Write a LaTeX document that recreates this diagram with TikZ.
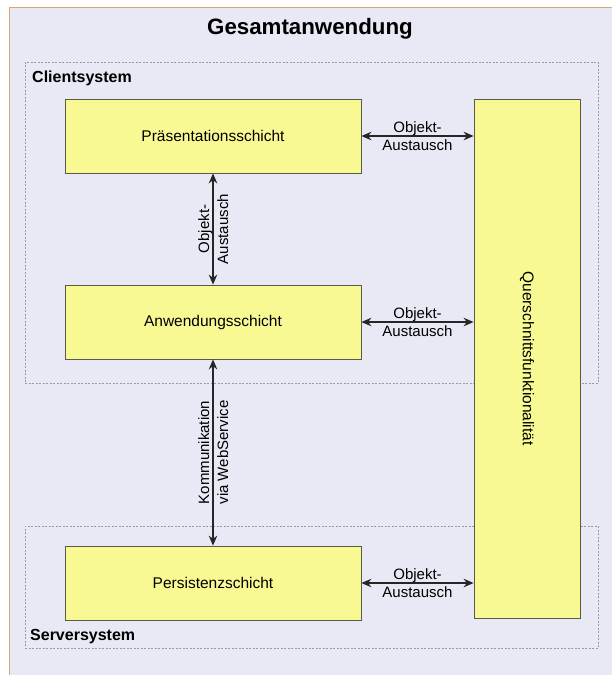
\documentclass[tikz,border=0pt]{standalone}
\usepackage{fontspec}
\setmainfont{Liberation Sans}
\usetikzlibrary{arrows.meta}
\definecolor{bgc}{HTML}{E8E9F4}
\definecolor{framec}{HTML}{D9A46E}
\definecolor{boxc}{HTML}{F9F994}
\definecolor{boxline}{HTML}{5A5A4A}
\definecolor{dashc}{HTML}{9A9AA6}
\begin{document}
\begin{tikzpicture}[x=1pt,y=-1pt,
  layer/.style={draw=boxline,fill=boxc,line width=0.8pt,font=\fontsize{15.5}{18}\selectfont,inner sep=0pt},
  sysbox/.style={draw=dashc,dash pattern=on 2pt off 1.5pt,line width=0.6pt,inner sep=0pt,anchor=north west},
  xarrow/.style={{Stealth[length=10pt,width=8.5pt]}-{Stealth[length=10pt,width=8.5pt]},line width=1.3pt,black!85},
  lbl/.style={font=\fontsize{15}{18}\selectfont,inner sep=0pt,anchor=base},
  syslbl/.style={font=\bfseries\fontsize{16}{19}\selectfont,inner sep=0pt,anchor=base west}
  ]
\useasboundingbox (0,0) rectangle (611,675);
\fill[white] (0,0) rectangle (611,675);
\draw[framec,fill=bgc,line width=1pt] (9,7) rectangle (630,690);
\node[font=\bfseries\fontsize{22.3}{26}\selectfont,anchor=base,inner sep=0pt] (title) at (310,34) {Gesamtanwendung};
% system frames
\node[sysbox,minimum width=573pt,minimum height=321pt] (client) at (25,62) {};
\node[syslbl] (clientlbl) at (32,82) {Clientsystem};
\node[sysbox,minimum width=573pt,minimum height=122pt] (server) at (25,526) {};
\node[syslbl] (serverlbl) at (30,640) {Serversystem};
% layers
\node[layer,minimum width=296pt,minimum height=74pt] (praes) at (213,136) {Präsentationsschicht};
\node[layer,minimum width=296pt,minimum height=74pt] (anw) at (213,322) {Anwendungsschicht};
\node[layer,minimum width=296pt,minimum height=74pt] (pers) at (213,583) {Persistenzschicht};
\node[layer,minimum width=106pt,minimum height=519pt] (quer) at (527,358.5) {\rotatebox{-90}{Querschnittsfunktionalität}};
% horizontal connectors
\draw[xarrow] (praes.east) -- (praes.east -| quer.west) coordinate[midway] (m1);
\node[lbl] at ([yshift=4pt]m1) {Objekt-};
\node[lbl] at ([yshift=-14pt]m1) {Austausch};
\draw[xarrow] (anw.east) -- (anw.east -| quer.west) coordinate[midway] (m2);
\node[lbl] at ([yshift=4pt]m2) {Objekt-};
\node[lbl] at ([yshift=-14pt]m2) {Austausch};
\draw[xarrow] (pers.east) -- (pers.east -| quer.west) coordinate[midway] (m4);
\node[lbl] at ([yshift=4pt]m4) {Objekt-};
\node[lbl] at ([yshift=-14pt]m4) {Austausch};
% vertical connectors
\draw[xarrow] (praes.south) -- (anw.north) coordinate[midway] (m3);
\node[lbl,rotate=90] at ([xshift=-4pt]m3) {Objekt-};
\node[lbl,rotate=90] at ([xshift=15pt]m3) {Austausch};
\draw[xarrow] (anw.south) -- (pers.north) coordinate[midway] (m5);
\node[lbl,rotate=90] at ([xshift=-4pt]m5) {Kommunikation};
\node[lbl,rotate=90] at ([xshift=15pt]m5) {via WebService};
\end{tikzpicture}
\end{document}
